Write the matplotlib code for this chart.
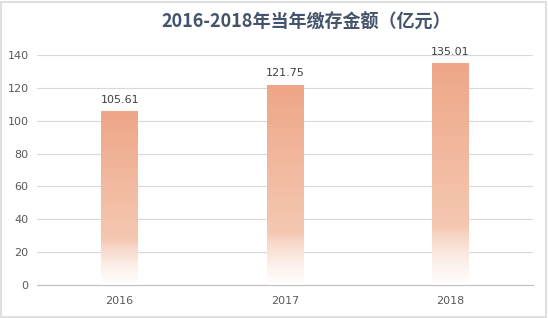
import numpy as np
import matplotlib
matplotlib.use("Agg")
import matplotlib.pyplot as plt
from matplotlib.colors import LinearSegmentedColormap
from matplotlib.patches import Rectangle

plt.rcParams['font.family'] = ['Noto Sans CJK SC', 'DejaVu Sans']

# data
years = ["2016", "2017", "2018"]
amounts = [105.61, 121.75, 135.01]
title = "2016-2018年当年缴存金额（亿元）"

fig = plt.figure(figsize=(5.48, 3.18), dpi=100)
ax = fig.add_axes([37 / 548, 1 - 285 / 318, 496 / 548, 230 / 318])

# border around the whole chart
fig.patches.append(Rectangle((0.002, 0.003), 0.994, 0.992, transform=fig.transFigure,
                             fill=False, edgecolor="#D9D9D9", linewidth=1.2))

x = np.arange(len(years))
bars = ax.bar(x, amounts, width=0.22, color="none", edgecolor="none", zorder=3)

# gradient fill: salmon on top, fading to white at the base
cmap = LinearSegmentedColormap.from_list(
    "fade", [(0.0, "#FFFFFF"), (0.12, "#FCEDE6"), (0.22, "#F7D6C6"),
             (0.26, "#F5C8B2"), (1.0, "#EEA687")])
grad = np.linspace(0, 1, 256).reshape(-1, 1)
for b in bars:
    x0, y0 = b.get_x(), b.get_y()
    w, h = b.get_width(), b.get_height()
    im = ax.imshow(grad, cmap=cmap, origin="lower", aspect="auto",
                   extent=[x0, x0 + w, y0, y0 + h], zorder=3)
    im.set_clip_path(b)

for xi, v in zip(x, amounts):
    ax.text(xi, v + 4, f"{v:.2f}", ha="center", va="bottom", fontsize=8, color="#404040",
            family="DejaVu Sans")

ax.set_xlim(-0.5, 2.5)
ax.set_ylim(0, 140)
ax.set_yticks(range(0, 141, 20))
ax.set_xticks(x)
ax.set_xticklabels(years)
ax.tick_params(axis="both", length=0, labelsize=8, labelcolor="#595959")
ax.tick_params(axis="y", pad=6)
ax.tick_params(axis="x", pad=8)
for lbl in ax.get_xticklabels() + ax.get_yticklabels():
    lbl.set_family("DejaVu Sans")
ax.grid(axis="y", color="#D9D9D9", linewidth=0.8, zorder=0)
for s in ["top", "right", "left"]:
    ax.spines[s].set_visible(False)
ax.spines["bottom"].set_color("#BFBFBF")

fig.text(306 / 548, 1 - 22 / 318, title, ha="center", va="center", fontsize=13,
         fontweight="bold", color="#44546A")

fig.savefig("out.png", dpi=100)
